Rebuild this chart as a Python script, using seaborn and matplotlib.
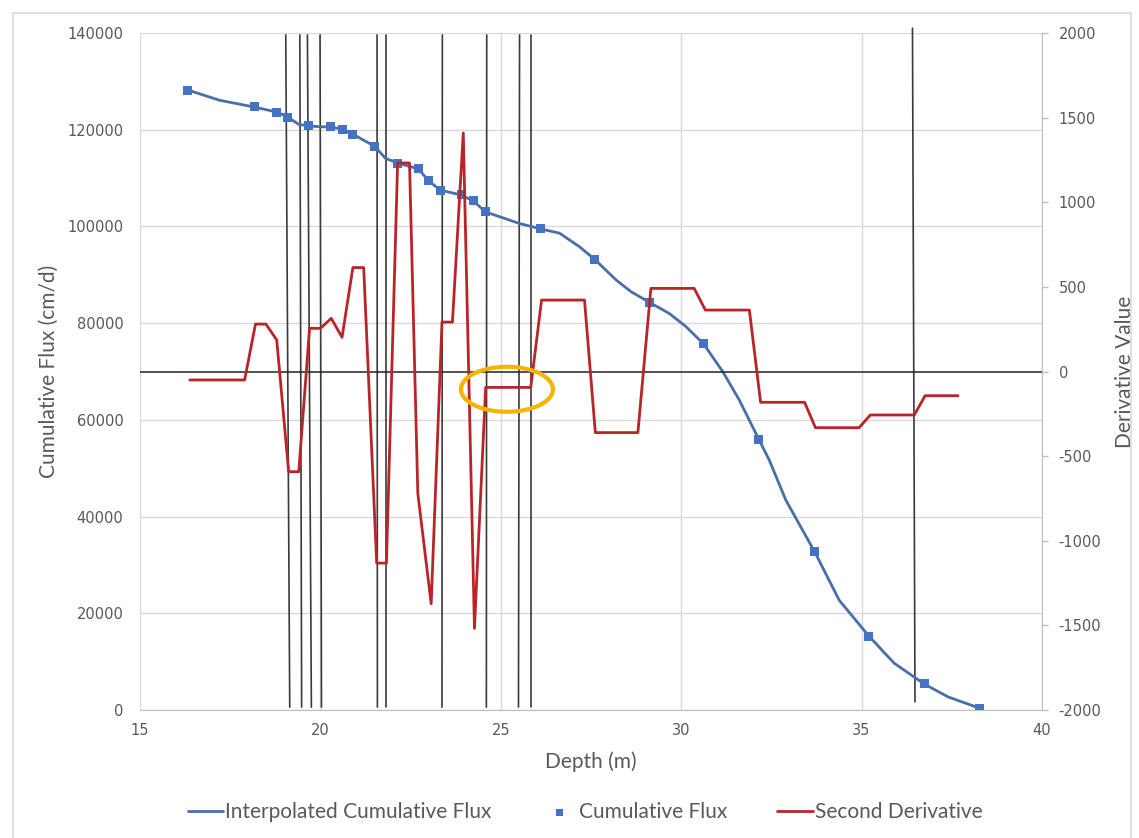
import matplotlib
matplotlib.use("Agg")
import matplotlib.pyplot as plt
from matplotlib.patches import Ellipse, Rectangle
import seaborn as sns
import pandas as pd

# ---------------- data ----------------
depth = [16.33, 18.16, 18.79, 19.1, 19.68, 20.29, 20.6, 20.9, 21.5, 22.14, 22.72, 23.0,
         23.33, 23.9, 24.23, 24.58, 26.1, 27.6, 29.12, 30.62, 32.15, 33.7, 35.2, 36.73, 38.26]
flux = [128200, 124700, 123650, 122600, 120800, 120600, 120100, 119100, 116600, 113100,
        111900, 109400, 107500, 106500, 105300, 103000, 99500, 93200, 84300, 75700, 56000,
        32700, 15300, 5400, 400]

interp_depth = [16.33, 17.2, 18.16, 18.79, 19.1, 19.4, 19.68, 20.0, 20.29, 20.6, 20.9, 21.18,
                21.5, 21.8, 22.14, 22.72, 23.0, 23.33, 23.9, 24.23, 24.58, 25.52, 26.1, 26.63,
                27.18, 27.6, 28.2, 28.61, 29.12, 29.67, 30.13, 30.62, 31.15, 31.61, 32.15,
                32.44, 32.9, 33.7, 34.38, 35.2, 35.9, 36.73, 37.4, 38.26]
interp_flux = [128200, 126100, 124700, 123650, 122600, 121100, 120800, 120600, 120600, 120100,
               119100, 117900, 116600, 114100, 113100, 111900, 109400, 107500, 106500, 105300,
               103000, 100600, 99500, 98600, 95800, 93200, 88900, 86500, 84300, 82000, 79300,
               75700, 70000, 64100, 56000, 51700, 43400, 32700, 22700, 15300, 9700, 5400,
               2700, 400]

d2_depth = [16.38, 17.9, 18.2, 18.49, 18.79, 19.12, 19.4, 19.7, 20.0, 20.3, 20.6, 20.9, 21.2,
            21.56, 21.83, 22.14, 22.47, 22.7, 23.07, 23.37, 23.66, 23.96, 24.27, 24.58, 25.83,
            26.13, 27.32, 27.62, 28.8, 29.16, 30.36, 30.67, 31.89, 32.2, 33.42, 33.72, 34.93,
            35.24, 36.46, 36.76, 37.67]
d2_val = [-50, -50, 280, 280, 186, -592, -592, 255, 255, 314, 202, 614, 614, -1132, -1132,
          1232, 1232, -720, -1372, 292, 292, 1409, -1518, -94, -94, 422, 422, -361, -361,
          491, 491, 363, 363, -182, -182, -332, -332, -257, -257, -143, -143]

# hand-drawn marker lines (depth at top / bottom, flux at top / bottom)
vline_top_depth = [19.04, 19.43, 19.64, 19.99, 21.57, 21.83, 23.38, 24.61, 25.52, 25.83, 36.41]
vline_bot_depth = [19.15, 19.48, 19.75, 20.03, 21.58, 21.83, 23.37, 24.60, 25.49, 25.83, 36.48]
vline_top_flux = [139600] * 10 + [141000]
vline_bot_flux = [600] * 10 + [1700]

x_ticks = [15, 20, 25, 30, 35, 40]
y_ticks = [0, 20000, 40000, 60000, 80000, 100000, 120000, 140000]
y2_ticks = [-2000, -1500, -1000, -500, 0, 500, 1000, 1500, 2000]

# highlighted region (ellipse) : center depth / value, width / height
ell_center = (25.17, -105)
ell_size = (2.55, 266)

# ---------------- style ----------------
sns.set_style("white")
plt.rcParams["font.family"] = ["DejaVu Sans"]
title_font = ["Lato", "DejaVu Sans"]
grey_txt = "#595959"
grid_c = "#D9D9D9"
blue_line = "#4A6FA8"
blue_mark = "#4472C4"
red = "#BA2429"

fig = plt.figure(figsize=(11.39, 8.38), dpi=100)
ax = fig.add_axes([140 / 1139, 1 - 710 / 838, (1042 - 140) / 1139, (710 - 33) / 838])
ax2 = ax.twinx()

df_interp = pd.DataFrame({"Depth": interp_depth, "Flux": interp_flux})
df_pts = pd.DataFrame({"Depth": depth, "Flux": flux})
df_d2 = pd.DataFrame({"Depth": d2_depth, "D2": d2_val})

# vertical marker lines
for xt, xb, yt, yb in zip(vline_top_depth, vline_bot_depth, vline_top_flux, vline_bot_flux):
    ax.plot([xt, xb], [yt, yb], color="#3a3a3a", lw=1.2, zorder=2, clip_on=False)

sns.lineplot(data=df_interp, x="Depth", y="Flux", ax=ax, color=blue_line, lw=2,
             sort=False, label="Interpolated Cumulative Flux", zorder=3)
sns.scatterplot(data=df_pts, x="Depth", y="Flux", ax=ax, marker="s", s=42,
                color=blue_mark, edgecolor="none", label="Cumulative Flux", zorder=4)

ax2.axhline(0, color="#222222", lw=1.1, zorder=1)
sns.lineplot(data=df_d2, x="Depth", y="D2", ax=ax2, color=red, lw=2, sort=False,
             label="Second Derivative", zorder=3)
ax2.add_patch(Ellipse(ell_center, ell_size[0], ell_size[1], fill=False,
                      edgecolor="#F4B400", lw=3, zorder=5))

# axes limits / ticks
ax.set_xlim(15, 40)
ax.set_ylim(0, 140000)
ax2.set_ylim(-2000, 2000)
ax.set_xticks(x_ticks)
ax.set_yticks(y_ticks)
ax2.set_yticks(y2_ticks)
ax.set_xticklabels([str(t) for t in x_ticks])
ax.set_yticklabels([str(t) for t in y_ticks])
ax2.set_yticklabels([str(t) for t in y2_ticks])

ax.grid(True, color=grid_c, lw=1)
ax.set_axisbelow(True)
ax2.grid(False)

for s in ["top", "left", "right"]:
    ax.spines[s].set_visible(False)
ax.spines["bottom"].set_color("#BFBFBF")
for s in ["top", "left", "bottom"]:
    ax2.spines[s].set_visible(False)
ax2.spines["right"].set_visible(True)
ax2.spines["right"].set_color("#BFBFBF")

ax.tick_params(axis="x", length=0, pad=9, labelsize=10.5, labelcolor=grey_txt)
ax.tick_params(axis="y", length=0, pad=12, labelsize=10.5, labelcolor=grey_txt)
ax2.tick_params(axis="y", length=4, width=1, color="#BFBFBF", direction="out",
                pad=8, labelsize=10.5, labelcolor=grey_txt, right=True)

ax.set_xlabel("Depth (m)", fontsize=15, color=grey_txt, family=title_font, labelpad=10)
ax.set_ylabel("Cumulative Flux (cm/d)", fontsize=15, color=grey_txt, family=title_font,
              labelpad=6)
ax2.set_ylabel("Derivative Value", fontsize=15, color=grey_txt, family=title_font,
               labelpad=10)

# legend
h1, l1 = ax.get_legend_handles_labels()
h2, l2 = ax2.get_legend_handles_labels()
ax.get_legend().remove()
ax2.get_legend().remove()
fig.legend(h1 + h2, l1 + l2, loc="center", bbox_to_anchor=(585 / 1139, 1 - 812 / 838),
           ncol=3, frameon=False, handlelength=1.7, handletextpad=0.1, columnspacing=2.4,
           prop={"family": title_font, "size": 15}, labelcolor=grey_txt, markerscale=0.8)

# chart border
fig.add_artist(Rectangle((13 / 1139, -0.02), (1131 - 13) / 1139, 1 - 13 / 838 + 0.02,
                         transform=fig.transFigure, fill=False, edgecolor=grid_c, lw=1.2))

fig.savefig("out.png", dpi=100)
